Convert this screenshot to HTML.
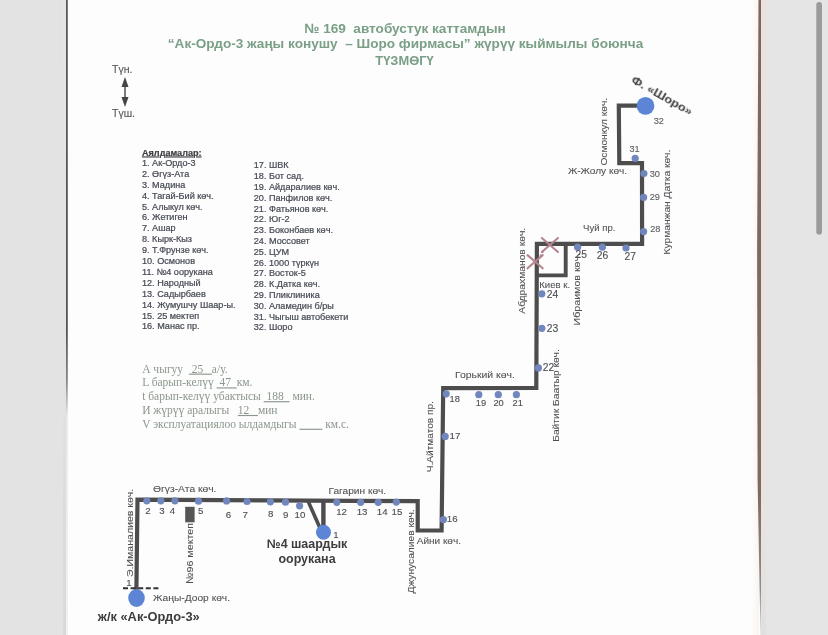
<!DOCTYPE html>
<html><head><meta charset="utf-8">
<style>
html,body{margin:0;padding:0;background:#fdfdfd;}
body{width:828px;height:635px;overflow:hidden;position:relative;font-family:"Liberation Sans",sans-serif;}
svg{position:absolute;left:0;top:0;}
text{font-family:"Liberation Sans",sans-serif;}
.t{font-weight:bold;fill:#7a9f86;font-size:13.6px;text-anchor:middle;}
.l{font-size:9.1px;fill:#464a54;stroke:#464a54;stroke-width:0.22px;}
.p{font-family:"Liberation Serif",serif;font-size:11.5px;fill:#8b978c;}
.s{font-size:9.9px;fill:#505054;stroke:#505054;stroke-width:0.08px;}
.n{font-size:10.2px;fill:#4a4c52;stroke:#4a4c52;stroke-width:0.12px;text-anchor:middle;}
.b{font-weight:bold;fill:#3c3c3c;}
</style></head>
<body>
<svg width="828" height="635" viewBox="0 0 828 635">
<defs>
<linearGradient id="lg" x1="0" y1="0" x2="0" y2="1"><stop offset="0" stop-color="#5a5a5a"/><stop offset="0.52" stop-color="#555"/><stop offset="0.6" stop-color="#888"/><stop offset="0.655" stop-color="#e8e8e8"/><stop offset="1" stop-color="#f0f0f0"/></linearGradient>
<linearGradient id="lsh" x1="0" y1="0" x2="0" y2="1"><stop offset="0" stop-color="#e6e5e3"/><stop offset="0.6" stop-color="#e4e3e2"/><stop offset="0.8" stop-color="#dcdcdc"/><stop offset="1" stop-color="#d9d9d9"/></linearGradient>
<linearGradient id="rg" x1="0" y1="0" x2="0" y2="1"><stop offset="0" stop-color="#7c6860"/><stop offset="0.78" stop-color="#7e6a60"/><stop offset="0.93" stop-color="#8e8e8e"/><stop offset="1" stop-color="#d8d8d8"/></linearGradient>
<linearGradient id="pk" x1="0" y1="0" x2="0" y2="1"><stop offset="0" stop-color="#ebe2de"/><stop offset="0.8" stop-color="#ebe3df"/><stop offset="1" stop-color="#e0e0e0"/></linearGradient>
<linearGradient id="glow" x1="0" y1="0" x2="1" y2="0"><stop offset="0" stop-color="#fdfdfd"/><stop offset="1" stop-color="#fbf3ee"/></linearGradient>
<filter id="bl" x="-5%" y="-5%" width="110%" height="110%"><feGaussianBlur stdDeviation="0.55"/></filter></defs>
<rect x="0" y="0" width="828" height="635" fill="#fdfdfd"/>
<rect x="0" y="0" width="66.2" height="635" fill="#e3e3e3"/>
<rect x="63" y="0" width="3.2" height="635" fill="url(#lsh)"/>
<rect x="66" y="0" width="1.8" height="635" fill="url(#lg)"/>
<rect x="752" y="0" width="7" height="635" fill="url(#glow)"/>
<rect x="761" y="0" width="67" height="635" fill="#e5e5e5"/>
<rect x="760.8" y="0" width="5.2" height="635" fill="url(#pk)"/>
<polygon points="758.5,0 761,0 761,635 760.6,635 759.8,600 757.6,480 757.1,250" fill="url(#rg)"/>
<rect x="816.3" y="2" width="5.7" height="232.5" rx="2.85" fill="#9a9a9a"/>
<g filter="url(#bl)">

<text class="t" x="405" y="32.5" xml:space="preserve">№ 169  автобустук каттамдын</text>
<text class="t" x="405.5" y="48" xml:space="preserve">“Ак-Ордо-3 жаңы конушу  – Шоро фирмасы” жүрүү кыймылы боюнча</text>
<text class="t" x="404.5" y="64.8" style="font-size:12.9px">ТҮЗМӨГҮ</text>
<text class="s" x="112" y="73.2" style="font-size:10.5px">Түн.</text>
<text class="s" x="112" y="117.4" style="font-size:10.5px">Түш.</text>
<line x1="125" y1="84" x2="125" y2="100" stroke="#444" stroke-width="1.4"/>
<path d="M125 77 L128.5 87 L121.5 87 Z" fill="#444"/>
<path d="M125 107 L128.5 97 L121.5 97 Z" fill="#444"/>
<text class="l b" x="142" y="155.5" text-decoration="underline">Аялдамалар:</text>
<text class="l" x="142" y="165.90">1. Ак-Ордо-3</text>
<text class="l" x="142" y="176.80">2. Өгүз-Ата</text>
<text class="l" x="142" y="187.70">3. Мадина</text>
<text class="l" x="142" y="198.60">4. Тагай-Бий көч.</text>
<text class="l" x="142" y="209.50">5. Алыкул көч.</text>
<text class="l" x="142" y="220.40">6. Жетиген</text>
<text class="l" x="142" y="231.30">7. Ашар</text>
<text class="l" x="142" y="242.20">8. Кырк-Кыз</text>
<text class="l" x="142" y="253.10">9. Т.Фрунзе көч.</text>
<text class="l" x="142" y="264.00">10. Осмонов</text>
<text class="l" x="142" y="274.90">11. №4 оорукана</text>
<text class="l" x="142" y="285.80">12. Народный</text>
<text class="l" x="142" y="296.70">13. Садырбаев</text>
<text class="l" x="142" y="307.60">14. Жумушчу Шаар-ы.</text>
<text class="l" x="142" y="318.50">15. 25 мектеп</text>
<text class="l" x="142" y="329.40">16. Манас пр.</text>
<text class="l" x="253.8" y="168.30">17. ШВК</text>
<text class="l" x="253.8" y="179.11">18. Бот сад.</text>
<text class="l" x="253.8" y="189.92">19. Айдаралиев көч.</text>
<text class="l" x="253.8" y="200.73">20. Панфилов көч.</text>
<text class="l" x="253.8" y="211.54">21. Фатьянов көч.</text>
<text class="l" x="253.8" y="222.35">22. Юг-2</text>
<text class="l" x="253.8" y="233.16">23. Боконбаев көч.</text>
<text class="l" x="253.8" y="243.97">24. Моссовет</text>
<text class="l" x="253.8" y="254.78">25. ЦУМ</text>
<text class="l" x="253.8" y="265.59">26. 1000 түркүн</text>
<text class="l" x="253.8" y="276.40">27. Восток-5</text>
<text class="l" x="253.8" y="287.21">28. К.Датка көч.</text>
<text class="l" x="253.8" y="298.02">29. Пликлиника</text>
<text class="l" x="253.8" y="308.83">30. Аламедин б/ры</text>
<text class="l" x="253.8" y="319.64">31. Чыгыш автобекети</text>
<text class="l" x="253.8" y="330.45">32. Шоро</text>
<text class="p" x="142.2" y="372.60" xml:space="preserve">А чыгуу  <tspan text-decoration="underline"> 25   </tspan>а/у.</text>
<text class="p" x="142.2" y="386.38" xml:space="preserve">L барып-келүү <tspan text-decoration="underline"> 47  </tspan>км.</text>
<text class="p" x="142.2" y="400.16" xml:space="preserve">t барып-келүү убактысы <tspan text-decoration="underline"> 188  </tspan> мин.</text>
<text class="p" x="142.2" y="413.94" xml:space="preserve">И жүрүү аралыгы   <tspan text-decoration="underline">12   </tspan>мин</text>
<text class="p" x="142.2" y="427.72" xml:space="preserve">V эксплуатациялоо ылдамдыгы <tspan text-decoration="underline">        </tspan> км.с.</text>
<polyline points="136.4,590.0 137.5,499.7 417.7,501.2 417.7,530.5 441.6,530.5 443.2,388.2 536.3,387.8 536.9,243.9 642.1,243.9 642.0,163.2 619.3,163.2 618.8,105.7 645.5,105.7" fill="none" stroke="#4d4d4d" stroke-width="4.2" stroke-linejoin="miter" />
<polyline points="536.9,275.4 565.7,275.4 565.7,243.9" fill="none" stroke="#4d4d4d" stroke-width="3.9" stroke-linejoin="miter" />
<polyline points="323.4,500.5 323.4,531.0" fill="none" stroke="#4d4d4d" stroke-width="4.4" stroke-linejoin="miter" />
<polyline points="308.0,501.0 320.0,528.0" fill="none" stroke="#4d4d4d" stroke-width="3.6" stroke-linejoin="miter" />
<line x1="123" y1="588.3" x2="158.4" y2="588.3" stroke="#333" stroke-width="2" stroke-dasharray="5,2.6"/>
<rect x="185.2" y="506.8" width="9.4" height="15.5" fill="#555"/>
<line x1="546.5" y1="248" x2="538.5" y2="257.5" stroke="#b5858f" stroke-width="1.1" stroke-dasharray="2.5,1.5"/>
<path d="M541.8 238.0 L558.0 252.0 M541.8 252.0 L558.0 238.0" stroke="#b5858f" stroke-width="2.1" fill="none" stroke-linecap="round"/>
<path d="M527.5 255.1 L542.7 268.3 M527.5 268.3 L542.7 255.1" stroke="#b5858f" stroke-width="2.1" fill="none" stroke-linecap="round"/>
<ellipse cx="136.5" cy="598" rx="8.3" ry="8.9" fill="#5c85d6"/>
<circle cx="323.5" cy="532.2" r="7.5" fill="#5c85d6"/>
<circle cx="645.5" cy="105.9" r="8.9" fill="#5c85d6"/>
<circle cx="146.8" cy="500.8" r="3.6" fill="#7186bc"/>
<circle cx="160.8" cy="500.8" r="3.6" fill="#7186bc"/>
<circle cx="174.9" cy="500.8" r="3.6" fill="#7186bc"/>
<circle cx="198.5" cy="501.2" r="3.6" fill="#7186bc"/>
<circle cx="226.6" cy="500.9" r="3.6" fill="#7186bc"/>
<circle cx="247.0" cy="501.5" r="3.6" fill="#7186bc"/>
<circle cx="270.4" cy="501.8" r="3.6" fill="#7186bc"/>
<circle cx="285.5" cy="502.2" r="3.6" fill="#7186bc"/>
<circle cx="299.6" cy="505.8" r="3.6" fill="#7186bc"/>
<circle cx="336.8" cy="502.3" r="3.6" fill="#7186bc"/>
<circle cx="360.7" cy="502.3" r="3.6" fill="#7186bc"/>
<circle cx="378.2" cy="502.3" r="3.6" fill="#7186bc"/>
<circle cx="396.3" cy="502.1" r="3.6" fill="#7186bc"/>
<circle cx="443.4" cy="519.6" r="3.6" fill="#7186bc"/>
<circle cx="445.2" cy="436.4" r="3.6" fill="#7186bc"/>
<circle cx="446.2" cy="393.8" r="3.6" fill="#7186bc"/>
<circle cx="478.8" cy="394.7" r="3.6" fill="#7186bc"/>
<circle cx="498.3" cy="394.7" r="3.6" fill="#7186bc"/>
<circle cx="516.4" cy="394.7" r="3.6" fill="#7186bc"/>
<circle cx="538.4" cy="367.9" r="3.6" fill="#7186bc"/>
<circle cx="541.8" cy="328.3" r="3.6" fill="#7186bc"/>
<circle cx="541.8" cy="293.8" r="3.6" fill="#7186bc"/>
<circle cx="577.6" cy="247.2" r="3.6" fill="#7186bc"/>
<circle cx="602.4" cy="247.2" r="3.6" fill="#7186bc"/>
<circle cx="626.0" cy="248.0" r="3.6" fill="#7186bc"/>
<circle cx="643.6" cy="231.6" r="3.6" fill="#7186bc"/>
<circle cx="643.6" cy="197.4" r="3.6" fill="#7186bc"/>
<circle cx="643.9" cy="173.5" r="3.6" fill="#7186bc"/>
<circle cx="635.2" cy="158.3" r="3.6" fill="#7186bc"/>
<text class="n" x="148.0" y="514.4" style="font-size:9.7px">2</text>
<text class="n" x="162.0" y="514.4" style="font-size:9.7px">3</text>
<text class="n" x="172.5" y="514.4" style="font-size:9.7px">4</text>
<text class="n" x="200.7" y="513.7" style="font-size:9.7px">5</text>
<text class="n" x="228.4" y="517.5" style="font-size:9.7px">6</text>
<text class="n" x="245.3" y="517.5" style="font-size:9.7px">7</text>
<text class="n" x="270.8" y="517.3" style="font-size:9.7px">8</text>
<text class="n" x="285.8" y="517.7" style="font-size:9.7px">9</text>
<text class="n" x="299.9" y="517.9" style="font-size:9.7px">10</text>
<text class="n" x="341.6" y="514.7" style="font-size:9.7px">12</text>
<text class="n" x="362.1" y="514.7" style="font-size:9.7px">13</text>
<text class="n" x="382.2" y="514.7" style="font-size:9.7px">14</text>
<text class="n" x="396.9" y="515.0" style="font-size:9.7px">15</text>
<text class="n" x="452.2" y="522.2" style="font-size:9.7px">16</text>
<text class="n" x="455.0" y="439.1" style="font-size:9.7px">17</text>
<text class="n" x="454.7" y="401.9" style="font-size:9.3px">18</text>
<text class="n" x="480.9" y="405.6" style="font-size:9.3px">19</text>
<text class="n" x="498.6" y="405.6" style="font-size:9.3px">20</text>
<text class="n" x="517.7" y="405.6" style="font-size:9.3px">21</text>
<text class="n" x="548.5" y="371.3" style="font-size:10.3px">22</text>
<text class="n" x="552.4" y="332.0" style="font-size:10.3px">23</text>
<text class="n" x="552.4" y="297.5" style="font-size:10.3px">24</text>
<text class="n" x="581.3" y="257.5" style="font-size:10.3px">25</text>
<text class="n" x="602.4" y="258.7" style="font-size:10.3px">26</text>
<text class="n" x="630.3" y="259.5" style="font-size:10.3px">27</text>
<text class="n" x="655.3" y="232.0" style="font-size:9.2px;fill:#5a5c62;stroke:#5a5c62">28</text>
<text class="n" x="654.8" y="199.7" style="font-size:9.2px;fill:#5a5c62;stroke:#5a5c62">29</text>
<text class="n" x="654.8" y="177.2" style="font-size:9.2px;fill:#5a5c62;stroke:#5a5c62">30</text>
<text class="n" x="634.6" y="151.7" style="font-size:9.2px;fill:#5a5c62;stroke:#5a5c62">31</text>
<text class="n" x="658.8" y="124.0" style="font-size:9.2px;fill:#5a5c62;stroke:#5a5c62">32</text>
<text class="n" x="129.0" y="586.4" style="font-size:9.6px">1</text>
<text class="n" x="336.0" y="538.2" style="font-size:9.6px">1</text>
<text class="s" x="153.0" y="492.4" textLength="63.5" lengthAdjust="spacingAndGlyphs">Өгүз-Ата көч.</text>
<text class="s" x="153.0" y="601.2" textLength="77.0" lengthAdjust="spacingAndGlyphs">Жаңы-Доор көч.</text>
<text class="s" x="328.5" y="494.1" textLength="57.7" lengthAdjust="spacingAndGlyphs">Гагарин көч.</text>
<text class="s" x="416.7" y="544.4" textLength="44.3" lengthAdjust="spacingAndGlyphs">Айни көч.</text>
<text class="s" x="455.0" y="377.9" textLength="59.8" lengthAdjust="spacingAndGlyphs">Горький көч.</text>
<text class="s" x="539.2" y="288.2" textLength="31.0" lengthAdjust="spacingAndGlyphs">Киев к.</text>
<text class="s" x="583.0" y="231.3" textLength="32.4" lengthAdjust="spacingAndGlyphs">Чуй пр.</text>
<text class="s" x="567.9" y="174.4" textLength="59.2" lengthAdjust="spacingAndGlyphs">Ж-Жолу көч.</text>
<text class="s" transform="translate(132.6,577.0) rotate(-90)" textLength="88.3" lengthAdjust="spacingAndGlyphs">Э.Иманалиев көч.</text>
<text class="s" transform="translate(192.8,584.0) rotate(-90)" textLength="61.0" lengthAdjust="spacingAndGlyphs">№96 мектеп</text>
<text class="s" transform="translate(413.8,593.5) rotate(-90)" textLength="84.2" lengthAdjust="spacingAndGlyphs">Джунусалиев көч.</text>
<text class="s" transform="translate(433.3,472.3) rotate(-90)" textLength="71.2" lengthAdjust="spacingAndGlyphs">Ч.Айтматов пр.</text>
<text class="s" transform="translate(558.8,441.8) rotate(-90)" textLength="92.6" lengthAdjust="spacingAndGlyphs">Байтик Баатыр көч.</text>
<text class="s" transform="translate(524.5,313.7) rotate(-90)" textLength="85.8" lengthAdjust="spacingAndGlyphs">Абдрахманов көч.</text>
<text class="s" transform="translate(579.8,325.4) rotate(-90)" textLength="72.4" lengthAdjust="spacingAndGlyphs">Ибраимов көч.</text>
<text class="s" transform="translate(670.1,254.5) rotate(-90)" textLength="104.8" lengthAdjust="spacingAndGlyphs">Курманжан Датка көч.</text>
<text class="s" transform="translate(607.2,165.6) rotate(-90)" textLength="67.7" lengthAdjust="spacingAndGlyphs">Осмонкул көч.</text>
<text class="b" x="97.8" y="620.6" style="font-size:12.85px">ж/к «Ак-Ордо-3»</text>
<text class="b" x="307" y="547.6" style="font-size:12.45px;text-anchor:middle">№4 шаардык</text>
<text class="b" x="307" y="562.5" style="font-size:12.45px;text-anchor:middle">оорукана</text>
<text class="b" transform="translate(630.6,82.2) rotate(29.6)" style="font-size:11px" textLength="68" lengthAdjust="spacingAndGlyphs">Ф. «Шоро»</text>
</g></svg></body></html>
